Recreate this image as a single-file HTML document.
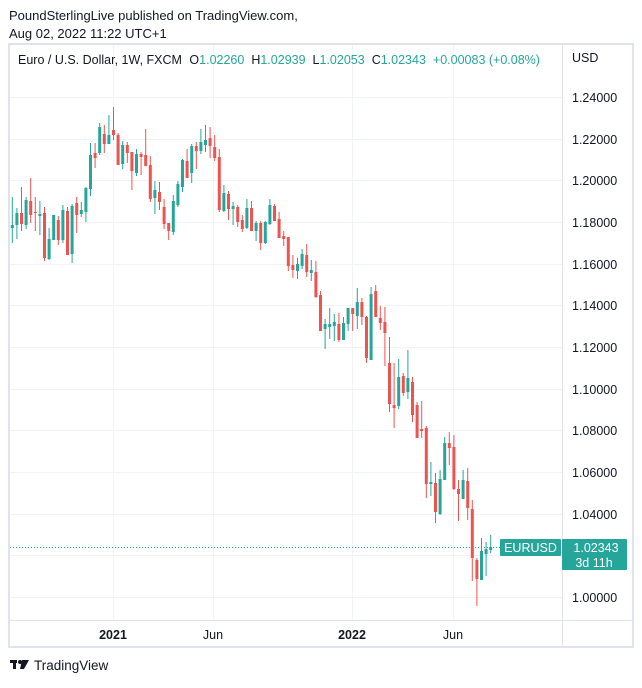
<!DOCTYPE html>
<html><head><meta charset="utf-8"><style>
body{margin:0;background:#fff;width:642px;height:683px;overflow:hidden;font-family:"Liberation Sans",sans-serif;}
</style></head><body>
<svg width="642" height="683" xmlns="http://www.w3.org/2000/svg" font-family="Liberation Sans, sans-serif">
<text x="9" y="20" font-size="13" fill="#131722">PoundSterlingLive published on TradingView.com,</text>
<text x="9" y="38" font-size="13" fill="#131722">Aug 02, 2022 11:22 UTC+1</text>
<rect x="9" y="44" width="624" height="603" fill="none" stroke="#e0e3eb" stroke-width="2"/>
<line x1="562.5" y1="44" x2="562.5" y2="647" stroke="#e0e3eb"/>
<line x1="9" y1="620.5" x2="633" y2="620.5" stroke="#e0e3eb"/>
<g stroke="#f0f3fa" stroke-width="1">
<line x1="10" x2="562" y1="97.5" y2="97.5"/><line x1="10" x2="562" y1="139.5" y2="139.5"/><line x1="10" x2="562" y1="180.5" y2="180.5"/><line x1="10" x2="562" y1="222.5" y2="222.5"/><line x1="10" x2="562" y1="264.5" y2="264.5"/><line x1="10" x2="562" y1="305.5" y2="305.5"/><line x1="10" x2="562" y1="347.5" y2="347.5"/><line x1="10" x2="562" y1="389.5" y2="389.5"/><line x1="10" x2="562" y1="430.5" y2="430.5"/><line x1="10" x2="562" y1="472.5" y2="472.5"/><line x1="10" x2="562" y1="514.5" y2="514.5"/><line x1="10" x2="562" y1="555.5" y2="555.5"/><line x1="10" x2="562" y1="597.5" y2="597.5"/>
<line x1="113.5" x2="113.5" y1="45" y2="620"/><line x1="213.5" x2="213.5" y1="45" y2="620"/><line x1="352.5" x2="352.5" y1="45" y2="620"/><line x1="453.5" x2="453.5" y1="45" y2="620"/>
</g>
<text x="18" y="64" font-size="12.5" fill="#131722">Euro / U.S. Dollar, 1W, FXCM <tspan dx="4">O</tspan><tspan fill="#26a69a">1.02260</tspan><tspan dx="7">H</tspan><tspan fill="#26a69a">1.02939</tspan><tspan dx="7">L</tspan><tspan fill="#26a69a">1.02053</tspan><tspan dx="7">C</tspan><tspan fill="#26a69a">1.02343</tspan><tspan dx="7" fill="#26a69a">+0.00083 (+0.08%)</tspan></text>
<text x="572" y="62" font-size="12.5" fill="#131722">USD</text>
<g font-size="12.5" fill="#131722">
<text x="572" y="102">1.24000</text><text x="572" y="144">1.22000</text><text x="572" y="185">1.20000</text><text x="572" y="227">1.18000</text><text x="572" y="269">1.16000</text><text x="572" y="310">1.14000</text><text x="572" y="352">1.12000</text><text x="572" y="394">1.10000</text><text x="572" y="435">1.08000</text><text x="572" y="477">1.06000</text><text x="572" y="519">1.04000</text><text x="572" y="602">1.00000</text>
</g>
<g font-size="12.5" fill="#131722" text-anchor="middle">
<text x="113" y="639" font-weight="bold">2021</text><text x="213" y="639">Jun</text><text x="352" y="639" font-weight="bold">2022</text><text x="453" y="639">Jun</text>
</g>
<line x1="10" x2="562" y1="547.5" y2="547.5" stroke="#26a69a" stroke-dasharray="1,2"/>
<g id="c"></g>
<rect x="500" y="539" width="61" height="17" rx="1" fill="#26a69a"/>
<text x="530.5" y="552" font-size="12.5" fill="#fff" text-anchor="middle">EURUSD</text>
<rect x="562" y="539" width="65" height="31" rx="1" fill="#26a69a"/>
<text x="596" y="552" font-size="12.5" fill="#fff" text-anchor="middle">1.02343</text>
<text x="594" y="567" font-size="12.5" fill="#fff" text-anchor="middle">3d 11h</text>
<g fill="#131722"><rect x="10" y="660" width="7" height="3"/><rect x="13" y="660" width="3" height="9"/><circle cx="20" cy="662" r="2"/><path d="M22 660 L29 660 L24 669 L20 669 Z"/></g>
<text x="34" y="670" font-size="13.5" fill="#131722">TradingView</text>
</svg>
<script>
var d=[
[1,'g',225,228,197,243],[2,'g',213,225,208,239],[3,'r',213,224,187,231],[4,'g',200,225,197,229],[5,'r',201,215,178,223],[6,'r',212,213,197,231],[7,'g',214,216,201,235],[8,'r',213,258,207,261],[9,'g',239,259,228,260],[10,'g',215,240,215,240],[11,'r',220,240,216,245],[12,'g',210,240,205,243],[13,'r',211,255,207,255],[14,'g',206,254,204,263],[15,'r',203,215,197,233],[16,'g',210,214,202,217],[17,'g',188,212,187,222],[18,'g',155,189,143,196],[19,'r',153,158,143,168],[20,'g',127,153,123,155],[21,'r',134,144,125,153],[22,'g',135,144,115,144],[23,'r',130,135,107,140],[24,'r',135,165,133,165],[25,'g',145,164,141,169],[26,'r',145,153,142,163],[27,'r',152,171,152,190],[28,'g',154,173,149,176],[29,'r',154,157,152,175],[30,'r',155,166,129,166],[31,'r',165,199,156,202],[32,'g',190,198,181,214],[33,'r',192,202,182,210],[34,'r',207,224,199,229],[35,'r',223,231,223,240],[36,'g',201,232,195,235],[37,'g',184,205,181,207],
[38,'g',160,187,159,192],[39,'r',161,178,149,178],[40,'g',146,173,144,183],[41,'r',146,151,142,169],[42,'g',142,151,129,154],[43,'g',140,145,125,152],[44,'r',138,146,127,158],[45,'r',147,158,135,161],[46,'r',157,210,149,212],[47,'g',193,211,185,212],[48,'r',194,209,191,220],[49,'g',206,209,202,225],[50,'r',207,222,205,227],[51,'r',220,229,215,232],[52,'g',208,228,199,229],[53,'r',208,231,201,231],[54,'g',223,231,221,241],[55,'r',223,243,221,250],[56,'g',222,243,221,244],[57,'g',205,224,199,225],[58,'r',206,221,204,221],[59,'r',219,238,212,238],[60,'r',236,239,231,246],[61,'r',237,266,237,271],[62,'r',265,270,255,278],[63,'g',264,271,258,279],[64,'g',254,266,249,269],[65,'r',255,272,244,277],[66,'g',270,273,260,281],[67,'r',272,297,261,298],[68,'r',295,331,291,331],[69,'g',324,329,319,349],[70,'g',324,327,308,339],[71,'g',322,326,314,341],[72,'r',324,340,313,342],
[73,'g',323,340,317,340],[74,'g',308,324,308,331],[75,'r',308,314,308,331],[76,'g',302,316,288,329],[77,'r',302,317,298,325],[78,'r',317,358,316,363],[79,'g',294,360,287,360],[80,'r',291,317,285,317],[81,'r',318,323,306,330],[82,'r',322,333,307,366],[83,'r',363,404,337,412],[84,'r',405,408,363,428],[85,'g',377,406,359,409],[86,'r',376,393,373,396],[87,'g',378,392,350,399],[88,'r',382,415,377,422],[89,'r',405,438,402,438],[90,'r',429,431,401,438],[91,'r',428,484,426,498],[92,'g',482,484,462,496],[93,'r',483,512,473,523],[94,'g',479,514,470,515],[95,'g',443,480,437,480],[96,'r',443,448,432,465],[97,'r',447,489,435,490],[98,'r',489,494,480,521],[99,'g',480,499,470,499],[100,'r',481,508,468,520],[101,'r',509,558,500,581],[102,'r',560,579,558,606],[103,'g',551,580,538,580],[104,'g',549,554,542,576],[105,'g',547,550,535,553]];
var s='';d.forEach(function(c){var x=12.3+(c[0]-1)*4.6;var col=c[1]=='g'?'#26a69a':'#ef5350';var t=Math.min(c[2],c[3]),b=Math.max(c[2],c[3]);
s+='<line x1="'+x+'" x2="'+x+'" y1="'+c[4]+'" y2="'+c[5]+'" stroke="'+col+'" stroke-width="1"/>';
s+='<rect x="'+(x-1.5)+'" y="'+t+'" width="3" height="'+Math.max(1,b-t)+'" fill="'+col+'"/>';});
document.getElementById('c').innerHTML=s;
</script>
</body></html>
